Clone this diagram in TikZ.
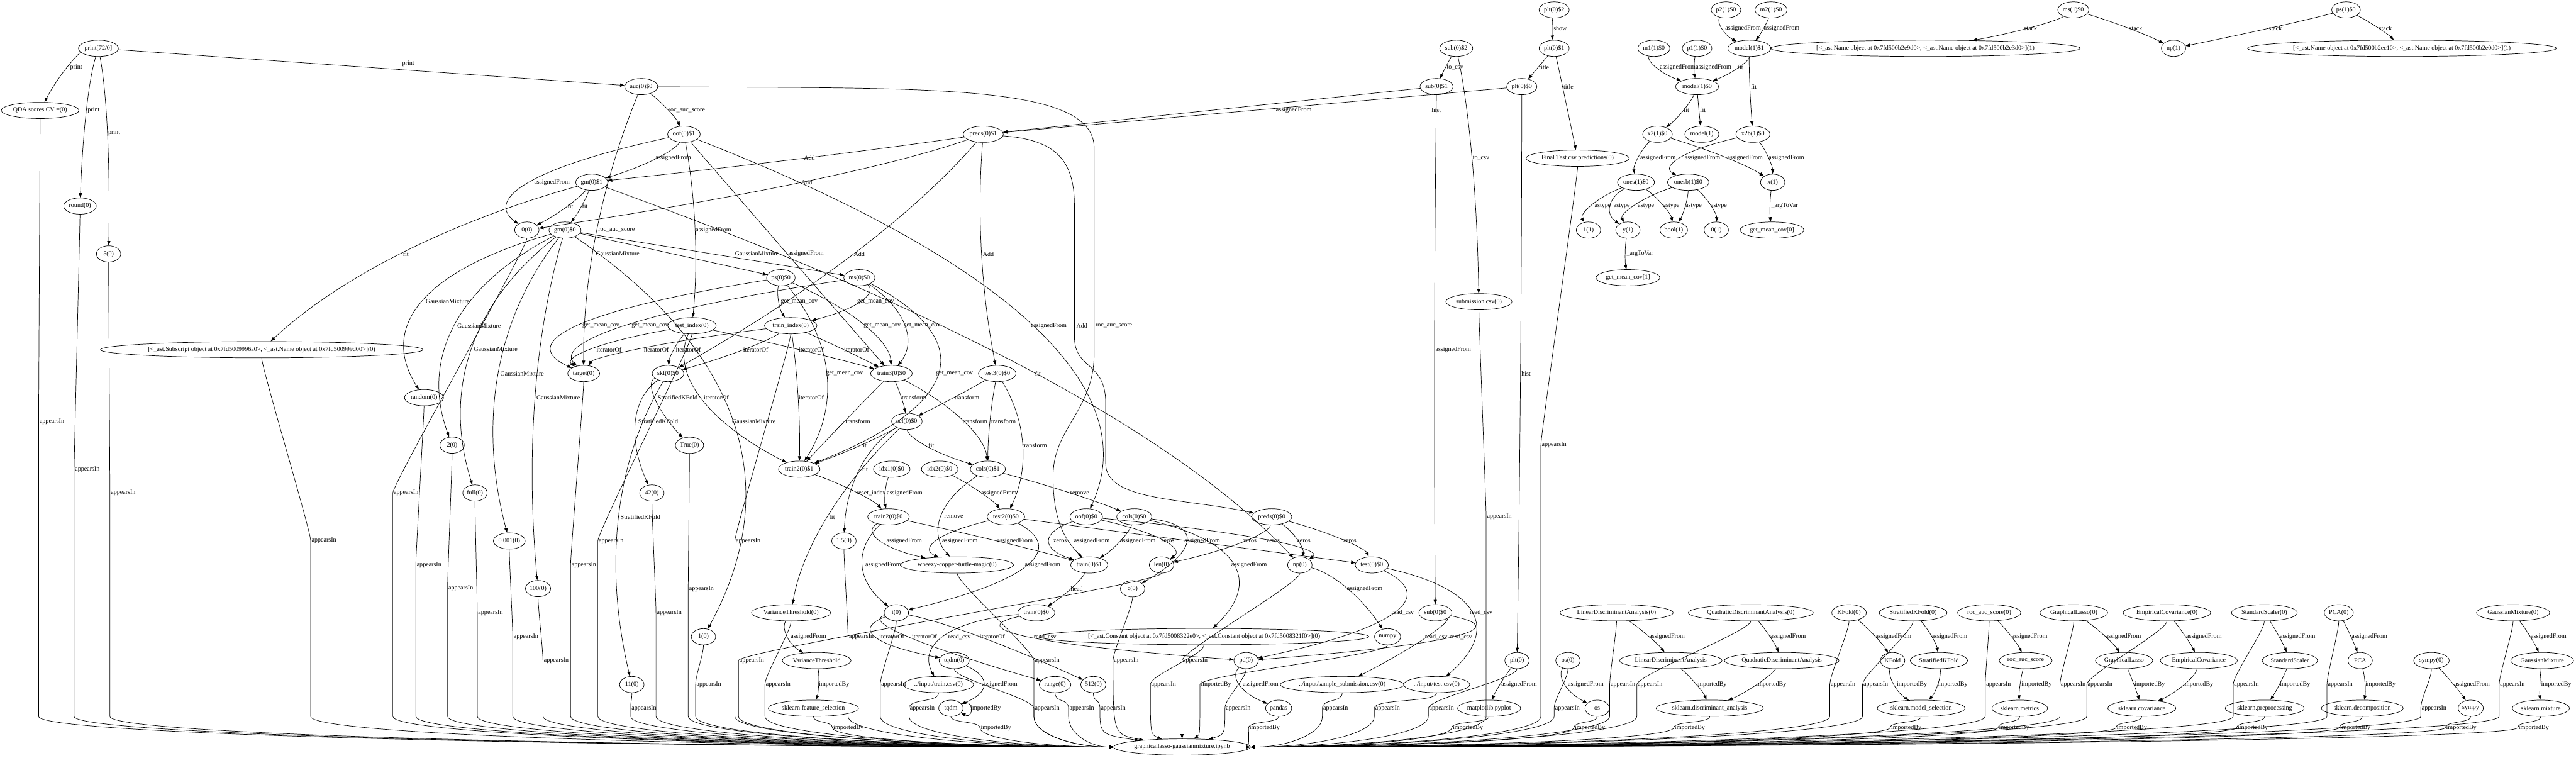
\documentclass[tikz,border=0pt]{standalone}
\usepackage{fontspec}
\setmainfont{Liberation Serif}
\usetikzlibrary{arrows.meta,calc,shapes.geometric}
\newcounter{lc}
\newcommand\nfont{\fontsize{14pt}{16pt}\selectfont}
% general edge: curve through the point left of its label
\newcommand\E[5]{\stepcounter{lc}%
\node[lb] (L\thelc) at (#4,#5) {#3};%
\coordinate (P\thelc) at ([xshift=-2pt]L\thelc.west);%
\draw[ed] (#1) .. controls ($1.3333*(P\thelc)-0.3333*(#2)$) and ($1.3333*(P\thelc)-0.3333*(#1)$) .. (#2);}
% straight edge, label placed separately
\newcommand\ES[5]{\stepcounter{lc}%
\node[lb] (L\thelc) at (#4,#5) {#3};%
\draw[ed] (#1) -- (#2);}
% edges into the notebook node
\newcommand\GW[4]{\stepcounter{lc}%
\node[lb] (L\thelc) at (#3,#4) {#2};%
\coordinate (P\thelc) at ([xshift=-2pt]L\thelc.west);%
\draw[ed] (#1) .. controls ($(#1.south)+(0,6)$) and ($(P\thelc)+(0,-6)$) .. (P\thelc) -- (P\thelc |- YS) .. controls (P\thelc |- YL) and ($(P\thelc |- g.west)!0.5!(g.west)$) .. (g.west);}
\newcommand\GE[4]{\stepcounter{lc}%
\node[lb] (L\thelc) at (#3,#4) {#2};%
\coordinate (P\thelc) at ([xshift=-2pt]L\thelc.west);%
\draw[ed] (#1) .. controls ($(#1.south)+(0,6)$) and ($(P\thelc)+(0,-6)$) .. (P\thelc) -- (P\thelc |- YS) .. controls (P\thelc |- YL) and ($(P\thelc |- g.east)!0.5!(g.east)$) .. (g.east);}
\newcommand\GWn[4]{\stepcounter{lc}%
\node[lb] (L\thelc) at (#3,#4) {#2};%
\coordinate (P\thelc) at ([xshift=-2pt]L\thelc.west);%
\draw[ed] (#1) .. controls ($(#1.south)+(0,4)$) and ($(P\thelc)+(0,-4)$) .. (P\thelc) .. controls ($(P\thelc)!0.6!(P\thelc |- g.west)$) and ($(P\thelc |- g.west)!0.5!(g.west)$) .. (g.west);}
\newcommand\GEn[4]{\stepcounter{lc}%
\node[lb] (L\thelc) at (#3,#4) {#2};%
\coordinate (P\thelc) at ([xshift=-2pt]L\thelc.west);%
\draw[ed] (#1) .. controls ($(#1.south)+(0,4)$) and ($(P\thelc)+(0,-4)$) .. (P\thelc) .. controls ($(P\thelc)!0.6!(P\thelc |- g.east)$) and ($(P\thelc |- g.east)!0.5!(g.east)$) .. (g.east);}
\newcommand\GT[4]{\stepcounter{lc}%
\node[lb] (L\thelc) at (#3,#4) {#2};%
\coordinate (P\thelc) at ([xshift=-2pt]L\thelc.west);%
\draw[ed] (#1) .. controls ($(#1.south)+(0,6)$) and ($(P\thelc)+(0,-6)$) .. (P\thelc) .. controls (P\thelc |- YL) .. (g);}
\begin{document}
\begin{tikzpicture}[x=3.636pt,y=-3.636pt,
  nd/.style={draw,ellipse,line width=1pt,inner xsep=1pt,inner ysep=1pt,minimum height=36pt,minimum width=54pt,font=\nfont},
  lb/.style={inner sep=0pt,font=\nfont},
  ed/.style={line width=1pt,-{Triangle[length=10pt,width=7pt]}}]
\fill[white] (0,0) rectangle (1568,461);
\useasboundingbox (0,0) rectangle (1568,461);
\coordinate (YS) at (0,436);
\coordinate (YL) at (0,447);
% ---------------- nodes: left / centre
\node[nd] (printn) at (59.9,29.4) {print[72/0]};
\node[nd] (qda) at (24.4,67.2) {QDA scores CV =(0)};
\node[nd] (round) at (48.7,125.4) {round(0)};
\node[nd] (five) at (66.1,154.5) {5(0)};
\node[nd] (auc) at (390.3,52.7) {auc(0)\$0};
\node[nd] (oof1) at (416.3,81.7) {oof(0)\$1};
\node[nd] (gm1) at (360.2,110.9) {gm(0)\$1};
\node[nd] (zero) at (320.7,140) {0(0)};
\node[nd] (gm0) at (343.9,140) {gm(0)\$0};
\node[nd] (preds1) at (598.5,81.7) {preds(0)\$1};
\node[nd] (ps) at (475.3,169) {ps(0)\$0};
\node[nd] (ms) at (523.1,169) {ms(0)\$0};
\node[nd] (subl) at (159.3,212.8) {[<\_ast.Subscript object at 0x7fd5009996a0>, <\_ast.Name object at 0x7fd500999d00>](0)};
\node[nd] (random) at (258.1,242) {random(0)};
\node[nd] (two) at (275.2,270.9) {2(0)};
\node[nd] (testidx) at (421.2,198.2) {test\_index(0)};
\node[nd] (trainidx) at (481.3,198.2) {train\_index(0)};
\node[nd] (target) at (355.3,227.3) {target(0)};
\node[nd] (skf) at (406.6,227.3) {skf(0)\$0};
\node[nd] (train3) at (542.6,227.3) {train3(0)\$0};
\node[nd] (test3) at (607,227.3) {test3(0)\$0};
\node[nd] (true) at (419.7,271) {True(0)};
\node[nd] (sel) at (552,256.4) {sel(0)\$0};
\node[nd] (train21) at (486.5,285.5) {train2(0)\$1};
\node[nd] (idx1) at (542.8,285.5) {idx1(0)\$0};
\node[nd] (idx2) at (572,285.5) {idx2(0)\$0};
\node[nd] (cols1) at (601.3,285.5) {cols(0)\$1};
\node[nd] (full) at (289.1,300) {full(0)};
\node[nd] (ftwo) at (396.8,300) {42(0)};
\node[nd] (train20) at (540.8,314.5) {train2(0)\$0};
\node[nd] (test20) at (612.3,314.5) {test2(0)\$0};
\node[nd] (oof0) at (661.2,314.5) {oof(0)\$0};
\node[nd] (cols0) at (690.4,314.5) {cols(0)\$0};
\node[nd] (preds0) at (774.1,314.5) {preds(0)\$0};
\node[nd] (tol) at (310,329.2) {0.001(0)};
\node[nd] (onefive) at (513.7,329.2) {1.5(0)};
\node[nd] (hundred) at (327.5,358.2) {100(0)};
\node[nd] (eleven) at (384.6,416.6) {11(0)};
\node[nd] (wheezy) at (582.6,343.8) {wheezy-copper-turtle-magic(0)};
\node[nd] (train1) at (663,343.8) {train(0)\$1};
\node[nd] (len) at (707,343.8) {len(0)};
\node[nd] (np0) at (791.2,343.8) {np(0)};
\node[nd] (test0) at (835,343.8) {test(0)\$0};
\node[nd] (c) at (689.4,358.3) {c(0)};
\node[nd] (vt0) at (481.5,372.9) {VarianceThreshold(0)};
\node[nd] (i) at (545.6,372.9) {i(0)};
\node[nd] (train0) at (630.8,372.9) {train(0)\$0};
\node[nd] (sub0) at (873.7,372.9) {sub(0)\$0};
\node[nd] (constl) at (732.9,387.4) {[<\_ast.Constant object at 0x7fd5008322e0>, <\_ast.Constant object at 0x7fd5008321f0>](0)};
\node[nd] (one) at (428.2,387.5) {1(0)};
\node[nd] (numpy) at (844.6,387.5) {numpy};
\node[nd] (vt) at (497.1,402) {VarianceThreshold};
\node[nd] (tqdm0) at (580.8,402) {tqdm(0)};
\node[nd] (pd) at (758.5,402) {pd(0)};
\node[nd] (plt) at (923.4,402) {plt(0)};
\node[nd] (os0) at (954.4,402) {os(0)};
\node[nd] (trcsv) at (571.3,416.6) {../input/train.csv(0)};
\node[nd] (range) at (642.2,416.6) {range(0)};
\node[nd] (f512) at (665.5,416.6) {512(0)};
\node[nd] (sscsv) at (817,416.6) {../input/sample\_submission.csv(0)};
\node[nd] (tecsv) at (874.5,416.6) {../input/test.csv(0)};
\node[nd] (skfs) at (495.1,431) {sklearn.feature\_selection};
\node[nd] (tqdm) at (578.8,431) {tqdm};
\node[nd] (pandas) at (778.3,431) {pandas};
\node[nd] (mpl) at (906.4,431) {matplotlib.pyplot};
\node[nd] (os) at (972.2,431) {os};
\node[nd] (g) at (719.5,454.6) {graphicallasso-gaussianmixture.ipynb};
% ---------------- nodes: top right
\node[nd] (plt2) at (946,6) {plt(0)\$2};
\node[nd] (plt1) at (946,29.4) {plt(0)\$1};
\node[nd] (sub2) at (886.4,29.4) {sub(0)\$2};
\node[nd] (sub1) at (874.4,52.7) {sub(0)\$1};
\node[nd] (plt0) at (926.3,52.7) {plt(0)\$0};
\node[nd] (final) at (960.3,96.3) {Final Test.csv predictions(0)};
\node[nd] (subcsv) at (900.2,183.6) {submission.csv(0)};
\node[nd] (m1) at (1006.7,29.4) {m1(1)\$0};
\node[nd] (p1) at (1033,29.4) {p1(1)\$0};
\node[nd] (model1) at (1064.8,29.4) {model(1)\$1};
\node[nd] (p2) at (1050.6,6) {p2(1)\$0};
\node[nd] (m2) at (1078,6) {m2(1)\$0};
\node[nd] (model0) at (1033,52.7) {model(1)\$0};
\node[nd] (x2) at (1008.9,81.7) {x2(1)\$0};
\node[nd] (modelv) at (1035.9,81.7) {model(1)};
\node[nd] (x2b) at (1067,81.7) {x2b(1)\$0};
\node[nd] (ones) at (995.8,110.9) {ones(1)\$0};
\node[nd] (onesb) at (1027.6,110.9) {onesb(1)\$0};
\node[nd] (x1) at (1079,110.9) {x(1)};
\node[nd] (o11) at (966.9,140) {1(1)};
\node[nd] (y1) at (990.9,140) {y(1)};
\node[nd] (bool) at (1018.8,140) {bool(1)};
\node[nd] (z1) at (1044.7,140) {0(1)};
\node[nd] (gmc0) at (1078.6,140) {get\_mean\_cov[0]};
\node[nd] (gmc1) at (990.9,169) {get\_mean\_cov[1]};
\node[nd] (ms1) at (1262,6) {ms(1)\$0};
\node[nd] (ps1) at (1428,6) {ps(1)\$0};
\node[nd] (lm) at (1172,29.4) {[<\_ast.Name object at 0x7fd500b2e9d0>, <\_ast.Name object at 0x7fd500b2e3d0>](1)};
\node[nd] (np1) at (1323,29.4) {np(1)};
\node[nd] (lp) at (1462,29.4) {[<\_ast.Name object at 0x7fd500b2ec10>, <\_ast.Name object at 0x7fd500b2e0d0>](1)};
% ---------------- nodes: bottom right
\node[nd] (lda0) at (984,372.9) {LinearDiscriminantAnalysis(0)};
\node[nd] (qda0) at (1065.7,372.9) {QuadraticDiscriminantAnalysis(0)};
\node[nd] (kf0) at (1125.5,372.9) {KFold(0)};
\node[nd] (skf0) at (1164.5,372.9) {StratifiedKFold(0)};
\node[nd] (roc0) at (1210.8,372.9) {roc\_auc\_score(0)};
\node[nd] (gl0) at (1262.3,372.9) {GraphicalLasso(0)};
\node[nd] (ec0) at (1319,372.9) {EmpiricalCovariance(0)};
\node[nd] (ss0) at (1378.3,372.9) {StandardScaler(0)};
\node[nd] (pca0) at (1423.6,372.9) {PCA(0)};
\node[nd] (gmx0) at (1529.7,372.9) {GaussianMixture(0)};
\node[nd] (lda) at (1017,402) {LinearDiscriminantAnalysis};
\node[nd] (qdan) at (1084.5,402) {QuadraticDiscriminantAnalysis};
\node[nd] (kf) at (1152,402) {KFold};
\node[nd] (skfn) at (1180.2,402) {StratifiedKFold};
\node[nd] (roc) at (1233,402) {roc\_auc\_score};
\node[nd] (gl) at (1292.9,402) {GraphicalLasso};
\node[nd] (ec) at (1338.4,402) {EmpiricalCovariance};
\node[nd] (ss) at (1393.8,402) {StandardScaler};
\node[nd] (pca) at (1436.6,402) {PCA};
\node[nd] (sympy0) at (1480,402) {sympy(0)};
\node[nd] (gmx) at (1547.4,402) {GaussianMixture};
\node[nd] (da) at (1040.7,431) {sklearn.discriminant\_analysis};
\node[nd] (msel) at (1169.4,431) {sklearn.model\_selection};
\node[nd] (metrics) at (1229.4,431) {sklearn.metrics};
\node[nd] (cov) at (1303.7,431) {sklearn.covariance};
\node[nd] (prep) at (1378.5,431) {sklearn.preprocessing};
\node[nd] (dec) at (1437.9,431) {sklearn.decomposition};
\node[nd] (sympy) at (1503.9,431) {sympy};
\node[nd] (mix) at (1546.6,431) {sklearn.mixture};
% ---------------- edges: top left
\E{printn}{qda}{print}{46.4}{40.9}
\E{printn}{round}{print}{57}{67.2}
\E{printn}{five}{print}{69.5}{80.7}
\ES{printn}{auc}{print}{248.5}{38.9}
\E{auc}{oof1}{roc\_auc\_score}{418}{67.1}
\E{auc}{target}{roc\_auc\_score}{375.3}{140}
\node[lb] (Lauct) at (678,198.2) {roc\_auc\_score};
\draw[ed] (auc) .. controls (560,54) and (666,50) .. (666,90) -- (666,215) .. controls (666,250) and (641,260) .. (641,290) .. controls (641,320) and (650,330) .. (train1);
\E{oof1}{gm1}{assignedFrom}{409.8}{96.3}
\E{oof1}{zero}{assignedFrom}{336}{110.9}
\E{oof1}{testidx}{assignedFrom}{434.3}{140}
\E{oof1}{train3}{assignedFrom}{490.6}{154.5}
\E{oof1}{oof0}{assignedFrom}{638.4}{198.2}
\E{gm1}{zero}{fit}{347.2}{125.4}
\E{gm1}{gm0}{fit}{356}{125.4}
\E{gm1}{subl}{fit}{247}{154.5}
\E{gm1}{np0}{fit}{631.8}{227.3}
\ES{gm0}{ps}{GaussianMixture}{376}{154.5}
\ES{gm0}{ms}{GaussianMixture}{460.7}{154.5}
\E{gm0}{random}{GaussianMixture}{272.5}{183.6}
\E{gm0}{two}{GaussianMixture}{291.6}{198.2}
\E{gm0}{full}{GaussianMixture}{301.7}{212.7}
\E{gm0}{tol}{GaussianMixture}{317.8}{227.3}
\E{gm0}{hundred}{GaussianMixture}{339.8}{241.9}
\E{gm0}{one}{GaussianMixture}{458.9}{256.4}
\E{preds1}{gm1}{Add}{492.7}{96.3}
\E{preds1}{zero}{Add}{491}{110.9}
\E{preds1}{skf}{Add}{523}{154.5}
\E{preds1}{test3}{Add}{601.6}{154.5}
\node[lb] (Lpp) at (658.5,198.2) {Add};
\draw[ed] (preds1) .. controls (640,85) and (654,95) .. (654,125) -- (654,205) .. controls (654,225) and (673,220) .. (673,245) -- (673,282) .. controls (673,305) and (720,303) .. (preds0);
% ---------------- edges: middle
\E{ps}{trainidx}{get\_mean\_cov}{486.5}{183.6}
\E{ms}{trainidx}{get\_mean\_cov}{533}{183.6}
\E{ps}{target}{get\_mean\_cov}{365.8}{198.2}
\E{ms}{target}{get\_mean\_cov}{395.7}{198.2}
\E{ps}{train3}{get\_mean\_cov}{537}{198.2}
\E{ms}{train3}{get\_mean\_cov}{561.2}{198.2}
\E{ps}{train21}{get\_mean\_cov}{514.1}{227.3}
\E{ms}{train21}{get\_mean\_cov}{581}{227.3}
\E{testidx}{target}{iteratorOf}{370.7}{212.7}
\E{trainidx}{target}{iteratorOf}{399.5}{212.7}
\E{testidx}{skf}{iteratorOf}{419}{212.7}
\E{trainidx}{skf}{iteratorOf}{460}{212.7}
\E{testidx}{train3}{iteratorOf}{493.9}{212.7}
\E{trainidx}{train3}{iteratorOf}{521.4}{212.7}
\E{testidx}{train21}{iteratorOf}{436}{241.9}
\E{trainidx}{train21}{iteratorOf}{493.9}{241.9}
\E{skf}{true}{StratifiedKFold}{412.5}{241.9}
\E{skf}{ftwo}{StratifiedKFold}{400.6}{256.4}
\E{skf}{eleven}{StratifiedKFold}{389.8}{314.5}
\E{train3}{sel}{transform}{556.5}{241.9}
\E{train3}{cols1}{transform}{593.5}{256.4}
\E{train3}{train21}{transform}{522.2}{256.4}
\E{test3}{sel}{transform}{588.6}{241.9}
\E{test3}{cols1}{transform}{610.8}{256.4}
\E{test3}{test20}{transform}{629.8}{270.9}
\E{sel}{train21}{fit}{525.8}{270.9}
\E{sel}{onefive}{fit}{526.5}{285.5}
\E{sel}{vt0}{fit}{506.5}{314.5}
\E{sel}{cols1}{fit}{566.9}{270.9}
\E{idx1}{train20}{assignedFrom}{550.7}{300}
\E{idx2}{test20}{assignedFrom}{608}{300}
\E{train21}{train20}{reset\_index}{530.3}{300}
\E{cols1}{cols0}{remove}{657.2}{300}
\E{cols1}{wheezy}{remove}{580.5}{314.5}
\E{train20}{wheezy}{assignedFrom}{550.4}{329.2}
\E{train20}{i}{assignedFrom}{537.6}{343.8}
\E{train20}{train1}{assignedFrom}{617.8}{329.2}
\E{test20}{wheezy}{assignedFrom}{584.3}{329.2}
\E{test20}{i}{assignedFrom}{634.6}{343.8}
\ES{test20}{test0}{assignedFrom}{664.6}{329.2}
\E{oof0}{train1}{zeros}{645.3}{329.2}
\E{oof0}{len}{zeros}{710.8}{329.2}
\E{oof0}{np0}{zeros}{775}{329.2}
\E{preds0}{len}{zeros}{760.8}{329.2}
\E{preds0}{np0}{zeros}{793.6}{329.2}
\E{preds0}{test0}{zeros}{821.6}{329.2}
\E{cols0}{train1}{assignedFrom}{692.6}{329.2}
\E{cols0}{c}{assignedFrom}{731.8}{329.2}
\E{cols0}{constl}{assignedFrom}{760.3}{343.8}
\E{train1}{train0}{head}{655.4}{358.3}
\E{np0}{numpy}{assignedFrom}{830.7}{358.3}
\E{test0}{pd}{read\_csv}{853.8}{372.9}
\E{test0}{tecsv}{read\_csv}{901.5}{372.9}
\E{sub0}{sscsv}{read\_csv}{874.2}{387.5}
\E{sub0}{pd}{read\_csv}{889.2}{387.5}
\E{train0}{trcsv}{read\_csv}{584}{387.5}
\E{train0}{pd}{read\_csv}{636.1}{387.5}
\E{i}{tqdm0}{iteratorOf}{542.9}{387.5}
\E{i}{range}{iteratorOf}{562.7}{387.5}
\E{i}{f512}{iteratorOf}{604}{387.5}
\E{vt0}{vt}{assignedFrom}{492.1}{387.5}
\E{vt}{skfs}{importedBy}{507.7}{416.6}
\E{tqdm0}{tqdm}{assignedFrom}{608.5}{416.6}
\E{pd}{pandas}{assignedFrom}{767.3}{416.6}
\E{plt}{mpl}{assignedFrom}{924.7}{416.6}
\E{os0}{os}{assignedFrom}{965.2}{416.6}
\node[lb] (Lloop) at (600,431) {importedBy};
\draw[ed] (tqdm.25) .. controls +(8,-4) and +(8,4) .. (tqdm.-25);
% ---------------- edges: top right
\E{plt2}{plt1}{show}{949.7}{17.3}
\E{plt1}{plt0}{title}{939.9}{40.9}
\E{plt1}{final}{title}{954.7}{52.7}
\E{sub2}{sub1}{to\_csv}{885.7}{40.9}
\E{sub2}{subcsv}{to\_csv}{901.5}{96.3}
\E{sub1}{sub0}{assignedFrom}{884.6}{212.7}
\ES{sub1}{preds1}{assignedFrom}{787.5}{67.1}
\ES{plt0}{preds1}{hist}{874.3}{67.1}
\E{plt0}{plt}{hist}{928.9}{227.3}
\E{p2}{model1}{assignedFrom}{1061}{17.3}
\E{m2}{model1}{assignedFrom}{1084.5}{17.3}
\E{m1}{model0}{assignedFrom}{1021.2}{40.9}
\E{p1}{model0}{assignedFrom}{1043}{40.9}
\E{model1}{model0}{fit}{1059.3}{40.9}
\E{model1}{x2b}{fit}{1067.5}{52.7}
\E{model0}{x2}{fit}{1026.5}{67.1}
\E{model0}{modelv}{fit}{1036.5}{67.1}
\E{x2}{ones}{assignedFrom}{1009.2}{96.3}
\E{x2b}{onesb}{assignedFrom}{1036.3}{96.3}
\E{x2}{x1}{assignedFrom}{1062.2}{96.3}
\E{x2b}{x1}{assignedFrom}{1087.4}{96.3}
\E{ones}{o11}{astype}{975.6}{125.4}
\E{ones}{y1}{astype}{987.2}{125.4}
\E{onesb}{y1}{astype}{1001.9}{125.4}
\E{ones}{bool}{astype}{1017.3}{125.4}
\E{onesb}{bool}{astype}{1030.9}{125.4}
\E{onesb}{z1}{astype}{1046.2}{125.4}
\E{x1}{gmc0}{\_argToVar}{1086.3}{125.4}
\E{y1}{gmc1}{\_argToVar}{998.2}{154.5}
\E{ms1}{lm}{stack}{1236}{17.3}
\E{ms1}{np1}{stack}{1300}{17.3}
\E{ps1}{np1}{stack}{1385}{17.3}
\E{ps1}{lp}{stack}{1452}{17.3}
% ---------------- edges: bottom right
\E{lda0}{lda}{assignedFrom}{1014.7}{387.5}
\E{qda0}{qdan}{assignedFrom}{1088.4}{387.5}
\E{kf0}{kf}{assignedFrom}{1152.6}{387.5}
\E{skf0}{skfn}{assignedFrom}{1186.7}{387.5}
\E{roc0}{roc}{assignedFrom}{1235.4}{387.5}
\E{gl0}{gl}{assignedFrom}{1292.4}{387.5}
\E{ec0}{ec}{assignedFrom}{1341.5}{387.5}
\E{ss0}{ss}{assignedFrom}{1398.5}{387.5}
\E{pca0}{pca}{assignedFrom}{1442.3}{387.5}
\E{gmx0}{gmx}{assignedFrom}{1551.3}{387.5}
\E{lda}{da}{importedBy}{1041.8}{416.6}
\E{qdan}{da}{importedBy}{1078.1}{416.6}
\E{kf}{msel}{importedBy}{1163.8}{416.6}
\E{skfn}{msel}{importedBy}{1188.5}{416.6}
\E{roc}{metrics}{importedBy}{1239.7}{416.6}
\E{gl}{cov}{importedBy}{1308.6}{416.6}
\E{ec}{cov}{importedBy}{1338}{416.6}
\E{ss}{prep}{importedBy}{1397}{416.6}
\E{pca}{dec}{importedBy}{1449}{416.6}
\E{sympy0}{sympy}{assignedFrom}{1504.7}{416.6}
\E{gmx}{mix}{importedBy}{1556}{416.6}
% ---------------- edges into the notebook
\GW{qda}{appearsIn}{31.6}{256.4}
\GW{round}{appearsIn}{53.2}{285.5}
\GW{five}{appearsIn}{75}{300}
\GW{subl}{appearsIn}{197.2}{329}
\GW{zero}{appearsIn}{247.2}{300}
\GW{random}{appearsIn}{261.2}{343.8}
\GW{two}{appearsIn}{280.5}{358.2}
\GW{full}{appearsIn}{298.6}{372.9}
\GW{tol}{appearsIn}{320.2}{387.4}
\GW{hundred}{appearsIn}{338.6}{402}
\GW{target}{appearsIn}{355.4}{343.8}
\GW{testidx}{appearsIn}{372}{329.2}
\GW{eleven}{appearsIn}{392}{431}
\GW{ftwo}{appearsIn}{407.4}{372.9}
\GW{true}{appearsIn}{427}{358.3}
\GW{one}{appearsIn}{431.5}{416.6}
\GW{trainidx}{appearsIn}{455.4}{329.2}
\GW{len}{appearsIn}{457.6}{402}
\GW{vt0}{appearsIn}{473.7}{416.6}
\GW{onefive}{appearsIn}{524.3}{387.5}
\GW{i}{appearsIn}{543.9}{416.6}
\GW{trcsv}{appearsIn}{561.4}{431}
\GWn{skfs}{importedBy}{516.5}{442.8}
\GWn{tqdm}{importedBy}{606.2}{442.8}
\GW{wheezy}{appearsIn}{637.4}{402}
\GW{tqdm0}{appearsIn}{637.4}{431}
\GW{range}{appearsIn}{658.5}{431}
\GT{f512}{appearsIn}{677.6}{431}
\GT{c}{appearsIn}{685.6}{402}
\GT{constl}{appearsIn}{708.3}{416.6}
\GT{np0}{appearsIn}{727.6}{402}
\GT{numpy}{importedBy}{740.2}{416.6}
\GT{pd}{appearsIn}{753.7}{431}
\GEn{pandas}{importedBy}{769.8}{442.8}
\GE{sscsv}{appearsIn}{813}{431}
\GE{tecsv}{appearsIn}{844.6}{431}
\GE{plt}{appearsIn}{877.5}{431}
\GEn{mpl}{importedBy}{893.5}{442.8}
\GE{subcsv}{appearsIn}{912.7}{314.5}
\GE{final}{appearsIn}{946}{270.9}
\GE{os0}{appearsIn}{954.1}{431}
\GEn{os}{importedBy}{967.8}{442.8}
\GE{lda0}{appearsIn}{987.9}{416.6}
\GE{qda0}{appearsIn}{1004.4}{416.6}
\GEn{da}{importedBy}{1028.6}{442.8}
\GE{kf0}{appearsIn}{1121.9}{416.6}
\GE{skf0}{appearsIn}{1141.8}{416.6}
\GEn{msel}{importedBy}{1160.3}{442.8}
\GE{roc0}{appearsIn}{1216.5}{416.6}
\GEn{metrics}{importedBy}{1226}{442.8}
\GE{gl0}{appearsIn}{1262}{416.6}
\GE{ec0}{appearsIn}{1278.3}{416.6}
\GEn{cov}{importedBy}{1297.7}{442.8}
\GE{ss0}{appearsIn}{1367.4}{416.6}
\GEn{prep}{importedBy}{1371.3}{442.8}
\GE{pca0}{appearsIn}{1424.5}{416.6}
\GEn{dec}{importedBy}{1433.7}{442.8}
\GE{sympy0}{appearsIn}{1481.6}{431}
\GEn{sympy}{importedBy}{1498.2}{442.8}
\GE{gmx0}{appearsIn}{1529.3}{416.6}
\GEn{mix}{importedBy}{1542.3}{442.8}
\end{tikzpicture}
\end{document}
